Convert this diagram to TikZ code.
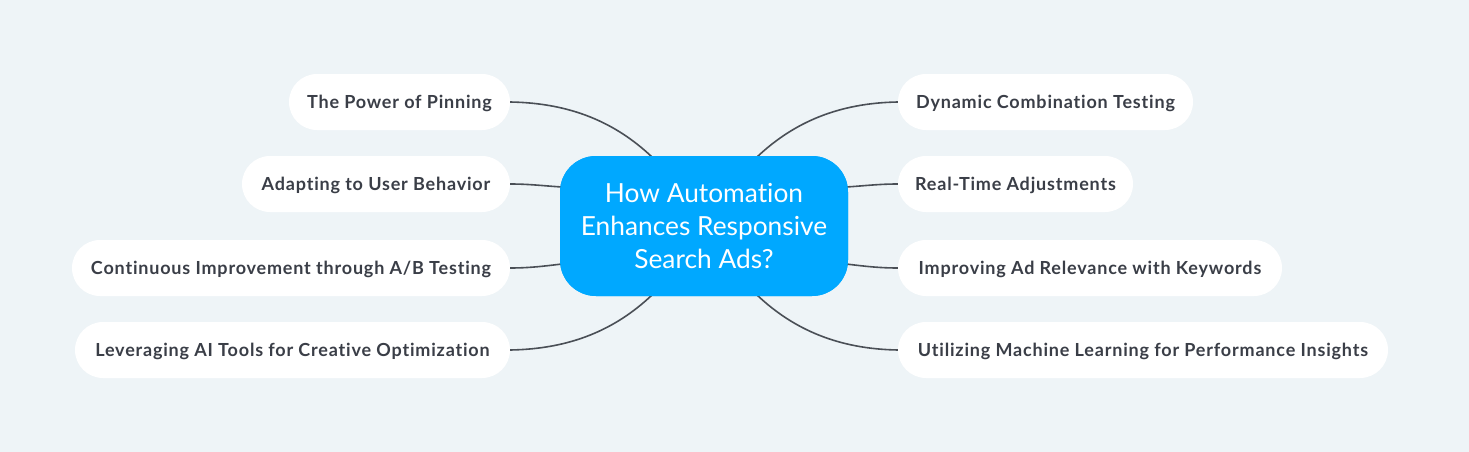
\documentclass[tikz,border=0pt]{standalone}
\usepackage{fontspec}
\setmainfont{Lato}[Ligatures=NoCommon]
\newfontfamily\leaffont{Lato}[Ligatures=NoCommon,LetterSpace=4.5]
\definecolor{bg}{HTML}{EEF4F7}
\definecolor{hub}{HTML}{00A8FF}
\definecolor{txt}{HTML}{3A3E47}
\definecolor{edge}{HTML}{4A4F56}
\begin{document}
\begin{tikzpicture}[x=1pt,y=-1pt,
  leaf/.style={fill=white,rounded corners=28pt,minimum height=56pt,inner sep=0pt,
    text height=14.5pt,text depth=1.5pt,
    font=\leaffont\fontsize{18}{22}\selectfont\bfseries,text=txt},
  hubnode/.style={fill=hub,rounded corners=36pt,minimum width=288pt,minimum height=140pt,
    inner sep=0pt,text=white,align=center,font=\fontsize{26.3}{33}\selectfont},
  conn/.style={draw=edge,line width=1.6pt}]
\fill[bg] (0,0) rectangle (1469,452);
\useasboundingbox (0,0) rectangle (1469,452);
\node[hubnode] (c) at (704,226) {How Automation\\Enhances Responsive\\Search Ads?};
\node[leaf,minimum width=221pt] (l1) at (399.5,102) {The Power of Pinning};
\node[leaf,minimum width=268pt] (l2) at (376,184) {Adapting to User Behavior};
\node[leaf,minimum width=438pt] (l3) at (291,268) {Continuous Improvement through A/B Testing};
\node[leaf,minimum width=435pt] (l4) at (292.5,350) {Leveraging AI Tools for Creative Optimization};
\node[leaf,minimum width=295pt] (r1) at (1045.5,102) {Dynamic Combination Testing};
\node[leaf,minimum width=235pt] (r2) at (1015.5,184) {Real-Time Adjustments};
\node[leaf,minimum width=384pt] (r3) at (1090,268) {Improving Ad Relevance with Keywords};
\node[leaf,minimum width=490pt] (r4) at (1143,350) {Utilizing Machine Learning for Performance Insights};
\coordinate (ct1) at (652,157);
\coordinate (ct2) at (757,157);
\coordinate (cb1) at (652,295);
\coordinate (cb2) at (757,295);
\coordinate (cl2) at (562,187);
\coordinate (cl3) at (562,264);
\coordinate (cr2) at (846,187);
\coordinate (cr3) at (846,264);
\draw[conn] (l1.east) .. controls (570,103) and (615,122) .. (ct1);
\draw[conn] (l2.east) .. controls (530,184) and (545,186) .. (cl2);
\draw[conn] (l3.east) .. controls (530,268) and (545,266) .. (cl3);
\draw[conn] (l4.east) .. controls (570,349) and (615,330) .. (cb1);
\draw[conn] (r1.west) .. controls (839,103) and (794,122) .. (ct2);
\draw[conn] (r2.west) .. controls (878,184) and (863,186) .. (cr2);
\draw[conn] (r3.west) .. controls (878,268) and (863,266) .. (cr3);
\draw[conn] (r4.west) .. controls (839,349) and (794,330) .. (cb2);
\node[hubnode] at (c) {How Automation\\Enhances Responsive\\Search Ads?};
\end{tikzpicture}
\end{document}
